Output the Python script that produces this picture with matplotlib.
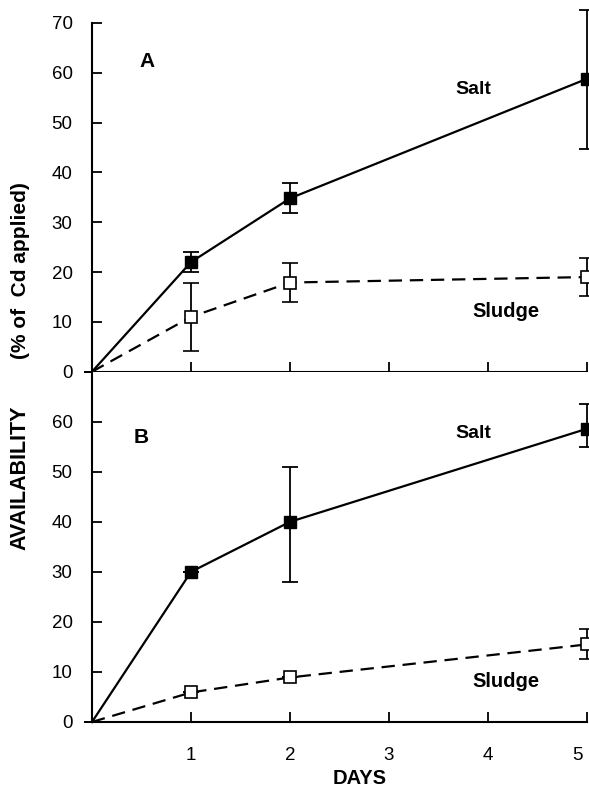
# Cd availability over time, salt vs sludge (two stacked panels)

import numpy as np
import matplotlib
matplotlib.use('Agg')
import matplotlib.pyplot as plt
import matplotlib.transforms as mtransforms

plt.rcParams['font.family'] = ['Liberation Sans', 'DejaVu Sans']

days = [0, 1, 2, 5]

# Panel A
salt_a = [0, 22, 34.8, 58.8]
salt_a_lo = [0, 2, 3, 14]
salt_a_hi = [0, 2, 3, 13.8]
sludge_a = [0, 11, 17.9, 19]
sludge_a_err = [0, 6.9, 4, 3.9]

# Panel B
salt_b = [0, 30, 40, 58.6]
salt_b_lo = [0, 0, 12, 3.7]
salt_b_hi = [0, 0, 11, 5]
sludge_b = [0, 5.9, 8.9, 15.5]
sludge_b_err = [0, 0, 0, 3]

x_ticks = [1, 2, 3, 4, 5]
x_labels = ['1', '2', '3', '4', '5']
y_ticks_a = [0, 10, 20, 30, 40, 50, 60, 70]
y_ticks_b = [0, 10, 20, 30, 40, 50, 60]

fig = plt.figure(figsize=(5.89, 7.90), dpi=100)
left = 92 / 589
width = 1 - left
ax_a = fig.add_axes([left, 0.5295, width, 0.4414])
ax_b = fig.add_axes([left, 0.0861, width, 0.4434])

xmax = 497 / 99


def draw_panel(ax, salt, salt_err, sludge, sludge_err, yticks, letter, letter_pos, salt_pos, sludge_pos):
    ax.errorbar(days, salt, yerr=salt_err, color='black', lw=1.6, marker='s', ms=8.5,
                markevery=[1, 2, 3], mfc='black', mec='black', capsize=6,
                elinewidth=1.3, capthick=1.3, clip_on=False, zorder=3)
    ax.errorbar(days, sludge, yerr=sludge_err, color='black', lw=1.6, ls=(0, (6, 3.5)),
                marker='s', ms=8, markevery=[1, 2, 3], mfc='white', mec='black', mew=1.2,
                capsize=6, elinewidth=1.3, capthick=1.3, clip_on=False, zorder=3)
    ax.set_xlim(0, xmax)
    ax.set_ylim(0, 70)
    ax.set_xticks(x_ticks)
    ax.set_xticklabels(x_labels)
    ax.set_yticks(yticks)
    for s in ['top', 'right']:
        ax.spines[s].set_visible(False)
    for s in ['left', 'bottom']:
        ax.spines[s].set_linewidth(1.5)
    ax.spines['bottom'].set_bounds(0, 5)
    ax.tick_params(direction='in', length=7, width=1.3, labelsize=13.5)
    ax.tick_params(axis='y', pad=14)
    ax.tick_params(axis='x', pad=18)
    ax.text(*letter_pos, letter, fontsize=15, fontweight='bold', ha='center', va='center')
    ax.text(*salt_pos, 'Salt', fontsize=14, fontweight='bold', ha='left', va='center')
    ax.text(*sludge_pos, 'Sludge', fontsize=14.5, fontweight='bold', ha='left', va='center')


draw_panel(ax_a, salt_a, [salt_a_lo, salt_a_hi], sludge_a, sludge_a_err, y_ticks_a,
           'A', (0.56, 62.2), (3.67, 56.6), (3.84, 12.0))
draw_panel(ax_b, salt_b, [salt_b_lo, salt_b_hi], sludge_b, sludge_b_err, y_ticks_b,
           'B', (0.50, 56.9), (3.67, 57.7), (3.84, 8.0))

ax_a.tick_params(axis='x', labelbottom=False)

# last day label sits left of its tick in the original
shift = mtransforms.ScaledTranslation(-0.10, 0, fig.dpi_scale_trans)
last = ax_b.get_xticklabels()[-1]
last.set_transform(last.get_transform() + shift)

fig.text(0.034, 1 - 478 / 790, 'AVAILABILITY', rotation=90, fontsize=15.5,
         fontweight='bold', ha='center', va='center')
fig.text(0.034, 1 - 271 / 790, '(% of  Cd applied)', rotation=90, fontsize=15,
         fontweight='bold', ha='center', va='center')
fig.text(360 / 589, 1 - 778 / 790, 'DAYS', fontsize=14.5, fontweight='bold', ha='center', va='center')

fig.savefig('out.png', dpi=100)
